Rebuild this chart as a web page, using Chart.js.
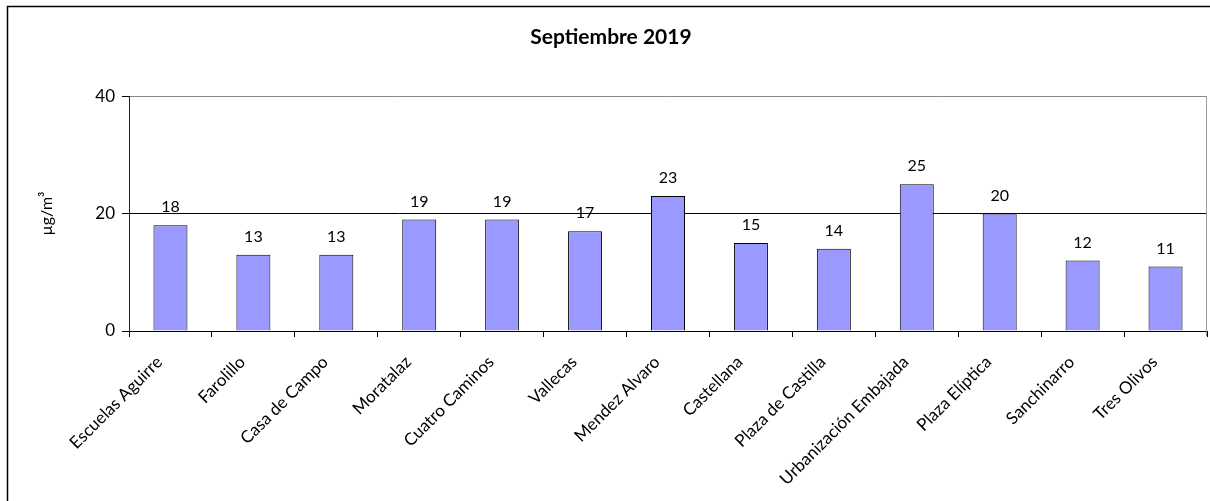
<!DOCTYPE html>
<html>
<head>
<meta charset="utf-8">
<script src="https://cdn.jsdelivr.net/npm/chart.js@4.4.0/dist/chart.umd.min.js"></script>
<style>
    html, body { margin: 0; padding: 0; background: #fff; }
    #wrap { width: 1210px; height: 501px; position: relative; }
</style>
</head>
<body>
<div id="wrap"><canvas id="myChart"></canvas></div>
<script>
var stations = ['Escuelas Aguirre', 'Farolillo', 'Casa de Campo', 'Moratalaz', 'Cuatro Caminos',
    'Vallecas', 'Mendez Alvaro', 'Castellana', 'Plaza de Castilla', 'Urbanización Embajada',
    'Plaza Elíptica', 'Sanchinarro', 'Tres Olivos'];
var values = [18, 13, 13, 19, 19, 17, 23, 15, 14, 25, 20, 12, 11];
var yTicks = [0, 20, 40];
var chartTitle = 'Septiembre 2019';
var yTitle = 'µg/m³';

var font = 'Lato, "Open Sans", sans-serif';

// white page, outer frame, right edge of plot and the numbers over the bars
var frame = {
    id: 'frame',
    beforeDraw: function (chart) {
        var c = chart.ctx;
        c.save();
        c.fillStyle = '#fff';
        c.fillRect(0, 0, chart.width, chart.height);
        c.strokeStyle = '#000';
        c.lineWidth = 1.5;
        c.beginPath();
        c.moveTo(7.5, chart.height);
        c.lineTo(7.5, 6.5);
        c.lineTo(chart.width + 2, 6.5);
        c.stroke();
        c.restore();
    },
    afterDraw: function (chart) {
        var c = chart.ctx;
        var a = chart.chartArea;
        c.save();
        c.strokeStyle = '#999';
        c.lineWidth = 1;
        c.beginPath();
        c.moveTo(a.right - 0.5, a.top);
        c.lineTo(a.right - 0.5, a.bottom + 5);
        c.stroke();
        c.fillStyle = '#000';
        c.font = '16px ' + font;
        c.textAlign = 'center';
        c.textBaseline = 'bottom';
        chart.getDatasetMeta(0).data.forEach(function (bar, i) {
            c.fillText(values[i], bar.x, bar.y - 10);
        });
        c.restore();
    }
};

var ctx = document.getElementById('myChart');
var myChart = new Chart(ctx, {
    type: 'bar',
    data: {
        labels: stations,
        datasets: [
            {
                data: values,
                backgroundColor: '#9999FF',
                borderColor: '#000',
                borderWidth: 1,
                barPercentage: 0.82,
                categoryPercentage: 0.5
            }
        ]
    },
    options: {
        responsive: true,
        maintainAspectRatio: false,
        animation: false,
        layout: { padding: { left: 15, right: 3, top: 0, bottom: 0 } },
        plugins: {
            legend: { display: false },
            tooltip: { enabled: false },
            title: {
                display: true,
                text: chartTitle,
                color: '#000',
                font: { family: font, size: 21, weight: 'bold' },
                padding: { top: 25, bottom: 46 }
            }
        },
        scales: {
            x: {
                grid: {
                    offset: true,
                    drawOnChartArea: false,
                    color: '#000',
                    tickLength: 6
                },
                border: { color: '#000', width: 1 },
                ticks: {
                    color: '#000',
                    font: { family: font, size: 17 },
                    maxRotation: 45,
                    minRotation: 45,
                    autoSkip: false,
                    padding: 15,
                    labelOffset: -11
                },
                afterFit: function (scale) { scale.height = 170; }
            },
            y: {
                min: 0,
                max: 40,
                afterBuildTicks: function (scale) {
                    scale.ticks = yTicks.map(function (v) { return { value: v }; });
                },
                grid: {
                    color: function (c) { return c.tick && c.tick.value === 40 ? '#888' : '#000'; },
                    tickColor: '#000',
                    tickLength: 7
                },
                border: { color: '#222', width: 1 },
                ticks: {
                    color: '#000',
                    font: { family: font, size: 17 },
                    padding: 7
                },
                title: {
                    display: true,
                    text: yTitle,
                    color: '#000',
                    font: { family: font, size: 16 },
                    padding: { top: 22, bottom: 0 }
                },
                afterFit: function (scale) { scale.width = 114; }
            }
        }
    },
    plugins: [frame]
});
</script>
</body>
</html>
